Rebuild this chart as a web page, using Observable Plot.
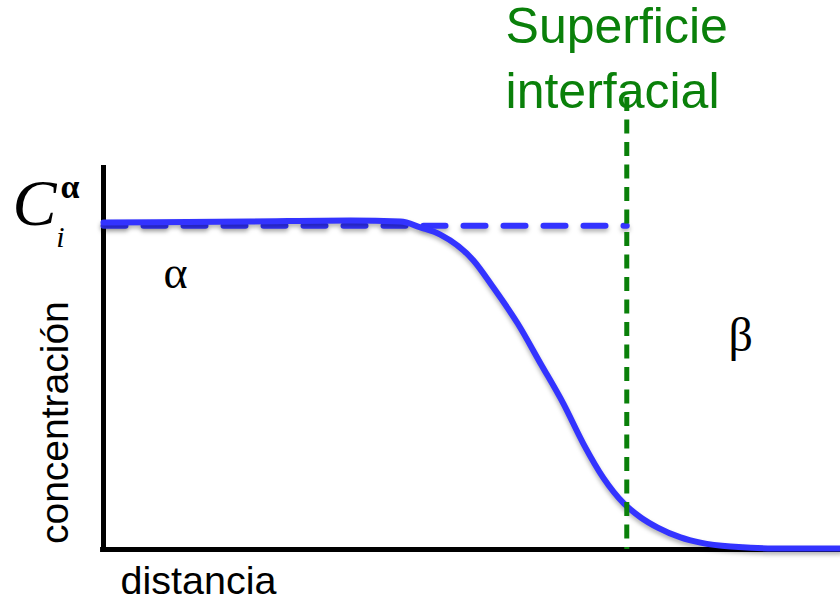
<!DOCTYPE html>
<html>
<head>
<meta charset="utf-8">
<script src="https://cdn.jsdelivr.net/npm/d3@7"></script>
<script src="https://cdn.jsdelivr.net/npm/@observablehq/plot@0.6"></script>
<style>
  html, body { margin: 0; padding: 0; background: #fff; }
  #chart svg g[aria-label="line"] path { filter: drop-shadow(0px 3px 2px rgba(0,0,0,0.3)); }
</style>
</head>
<body>
<div id="chart"></div>
<script>
// Concentration profile (solid blue curve): distance (0-100) vs concentration (0-1)
const distance = [0, 19.9, 33.5, 40.3, 43.0, 45.7, 50.2, 52.9, 56.2, 59.3, 62.4, 65.1, 67.8, 70.6, 72.9, 75.2, 78.3, 81.0, 85.1, 91.9, 100];
const concentration = [1.0, 1.003, 1.006, 1.003, 0.985, 0.963, 0.884, 0.801, 0.691, 0.569, 0.446, 0.324, 0.220, 0.141, 0.098, 0.067, 0.037, 0.021, 0.009, 0.003, 0.003];

// Equilibrium level C_i^alpha (dashed blue) up to the interface
const eqX = [0, 71];
const eqY = [0.99, 0.99];

// Interface position
const interfaceX = 71;
const interfaceTop = 1.382;

// Axis extents
const xAxisEnd = 100;
const yAxisTop = 1.174;

// Annotations
const labels = {
  interfaceText: "Superficie\ninterfacial",
  xLabel: "distancia",
  yLabel: "concentración",
  alpha: "α",
  beta: "β",
  C: "C",
  sub: "i",
  sup: "α"
};

const curve = distance.map((d, i) => ({x: d, y: concentration[i]}));
const eq = eqX.map((d, i) => ({x: d, y: eqY[i]}));

const blue = "#3333ff";
const green = "#0a800a";
const serif = "'Liberation Serif', 'Times New Roman', serif";
const sans = "'Liberation Sans', Arial, Helvetica, sans-serif";

const chart = Plot.plot({
  width: 840,
  height: 603,
  marginLeft: 103,
  marginRight: 0,
  marginTop: 0,
  marginBottom: 54,
  x: {domain: [0, 100], axis: null},
  y: {domain: [0, 549 / 327], axis: null},
  style: {background: "#fff", overflow: "visible"},
  marks: [
    // axes
    Plot.ruleY([0], {x1: -0.4, x2: xAxisEnd, stroke: "black", strokeWidth: 5}),
    Plot.ruleX([0], {y1: yAxisTop, y2: -0.006, stroke: "black", strokeWidth: 5}),
    // dashed equilibrium line
    Plot.line(eq, {x: "x", y: "y", stroke: blue, strokeWidth: 6, strokeDasharray: "22,18"}),
    // concentration profile
    Plot.line(curve, {x: "x", y: "y", stroke: blue, strokeWidth: 6, curve: "monotone-x"}),
    // interface
    Plot.ruleX([interfaceX], {y1: interfaceTop, y2: 0, stroke: green, strokeWidth: 5, strokeDasharray: "14,8.5"}),
    Plot.text([labels.interfaceText], {x: 54.55, y: 1.349, text: d => d, fill: green, fontSize: 50, fontFamily: sans, textAnchor: "start", lineAnchor: "bottom", lineHeight: 1.3}),
    // axis labels
    Plot.text([labels.xLabel], {x: 2.31, y: -0.1346, text: d => d, fill: "black", fontSize: 39.5, fontFamily: sans, textAnchor: "start", lineAnchor: "bottom"}),
    Plot.text([labels.yLabel], {x: -4.88, y: 0.388, text: d => d, fill: "black", fontSize: 39, fontFamily: sans, textAnchor: "middle", lineAnchor: "bottom", rotate: -90}),
    // phase labels
    Plot.text([labels.alpha], {x: 8.14, y: 0.801, text: d => d, fill: "black", fontSize: 46, fontFamily: serif, textAnchor: "start", lineAnchor: "bottom"}),
    Plot.text([labels.beta], {x: 84.8, y: 0.606, text: d => d, fill: "black", fontSize: 48, fontFamily: serif, textAnchor: "start", lineAnchor: "bottom"}),
    // C_i^alpha
    Plot.text([labels.C], {x: -12.35, y: 0.991, text: d => d, fill: "black", fontSize: 66, fontFamily: serif, fontStyle: "italic", textAnchor: "start", lineAnchor: "bottom"}),
    Plot.text([labels.sub], {x: -6.4, y: 0.924, text: d => d, fill: "black", fontSize: 30, fontFamily: serif, fontStyle: "italic", textAnchor: "start", lineAnchor: "bottom"}),
    Plot.text([labels.sup], {x: -5.83, y: 1.076, text: d => d, fill: "black", fontSize: 34, fontFamily: serif, fontWeight: "bold", textAnchor: "start", lineAnchor: "bottom"})
  ]
});
document.getElementById("chart").appendChild(chart);
</script>
</body>
</html>
